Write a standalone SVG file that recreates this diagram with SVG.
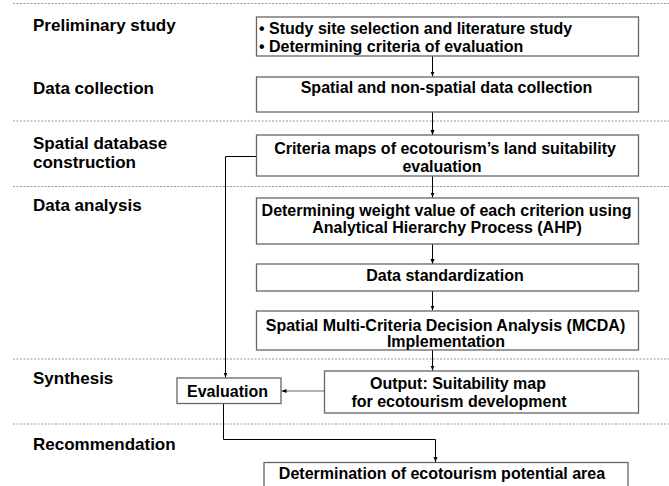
<svg xmlns="http://www.w3.org/2000/svg" width="669" height="486" viewBox="0 0 669 486">
<defs>
<marker id="ah" markerWidth="6" markerHeight="6" refX="5" refY="3" orient="auto" markerUnits="userSpaceOnUse">
<path d="M0,1 L5,3 L0,5 Z" fill="#000"/>
</marker>
</defs>
<style>
text { font-family: "Liberation Sans", Arial, sans-serif; font-weight: bold; font-size: 16px; fill: #000; }
.lbl { font-size: 17px; }
.c { text-anchor: middle; }
.box { fill: #fff; stroke: #666; stroke-width: 1.3; }
.dash { stroke: #999; stroke-width: 1; stroke-dasharray: 2 1.5; fill: none; }
.conn { stroke: #000; stroke-width: 1; fill: none; }
</style>
<rect width="669" height="486" fill="#fff"/>
<g id="dividers">
<line class="dash" x1="13" y1="3.5" x2="669" y2="3.5"/>
<line class="dash" x1="13" y1="121" x2="669" y2="121"/>
<line class="dash" x1="13" y1="186.5" x2="669" y2="186.5"/>
<line class="dash" x1="13" y1="359" x2="669" y2="359"/>
<line class="dash" x1="13" y1="424" x2="669" y2="424"/>
</g>
<g id="stages">
<text class="lbl" x="33" y="30.5">Preliminary study</text>
<text class="lbl" x="33" y="94.3">Data collection</text>
<text class="lbl" x="33" y="149.3">Spatial database</text>
<text class="lbl" x="33" y="167.5">construction</text>
<text class="lbl" x="33" y="211">Data analysis</text>
<text class="lbl" x="33" y="384">Synthesis</text>
<text class="lbl" x="33" y="450">Recommendation</text>
</g>
<g id="connectors">
<line class="conn" x1="432.5" y1="56" x2="432.5" y2="76.5" marker-end="url(#ah)"/>
<line class="conn" x1="432.5" y1="112" x2="432.5" y2="135" marker-end="url(#ah)"/>
<line class="conn" x1="432.5" y1="176" x2="432.5" y2="197.5" marker-end="url(#ah)"/>
<line class="conn" x1="432.5" y1="244" x2="432.5" y2="264" marker-end="url(#ah)"/>
<line class="conn" x1="432.5" y1="291" x2="432.5" y2="310.5" marker-end="url(#ah)"/>
<line class="conn" x1="432.5" y1="350" x2="432.5" y2="370.5" marker-end="url(#ah)"/>
<polyline class="conn" points="256,156.5 225.5,156.5 225.5,377.5" marker-end="url(#ah)"/>
<line x1="324" y1="391" x2="281.5" y2="391" stroke="#999" stroke-width="1.5" marker-end="url(#ah)"/>
<polyline class="conn" points="223.5,403.5 223.5,439.5 435.5,439.5 435.5,462" marker-end="url(#ah)"/>
</g>
<g id="n1">
<rect class="box" x="256.5" y="17" width="382" height="39"/>
<text x="259" y="34">• Study site selection and literature study</text>
<text x="259" y="52">• Determining criteria of evaluation</text>
</g>
<g id="n2">
<rect class="box" x="256.5" y="77" width="382" height="35"/>
<text class="c" x="446.5" y="93">Spatial and non-spatial data collection</text>
</g>
<g id="n3">
<rect class="box" x="256.5" y="135" width="382" height="41"/>
<text class="c" x="445" y="154">Criteria maps of ecotourism’s land suitability</text>
<text class="c" x="442" y="172">evaluation</text>
</g>
<g id="n4">
<rect class="box" x="256.5" y="198" width="382" height="46"/>
<text class="c" x="446.5" y="216">Determining weight value of each criterion using</text>
<text class="c" x="447" y="233">Analytical Hierarchy Process (AHP)</text>
</g>
<g id="n5">
<rect class="box" x="256.5" y="264" width="382" height="27"/>
<text class="c" x="445" y="281">Data standardization</text>
</g>
<g id="n6">
<rect class="box" x="256.5" y="311" width="382" height="39"/>
<text class="c" x="445.5" y="330.5">Spatial Multi-Criteria Decision Analysis (MCDA)</text>
<text class="c" x="446" y="346.5">Implementation</text>
</g>
<g id="n7">
<rect class="box" x="324.5" y="371" width="314" height="42"/>
<text class="c" x="458" y="389">Output: Suitability map</text>
<text class="c" x="459" y="407">for ecotourism development</text>
</g>
<g id="n8">
<rect class="box" x="177" y="378" width="104" height="25.5"/>
<text class="c" x="227.5" y="396.5">Evaluation</text>
</g>
<g id="n9">
<rect class="box" x="264" y="462.5" width="364" height="30"/>
<text class="c" x="442" y="479">Determination of ecotourism potential area</text>
</g>
</svg>
